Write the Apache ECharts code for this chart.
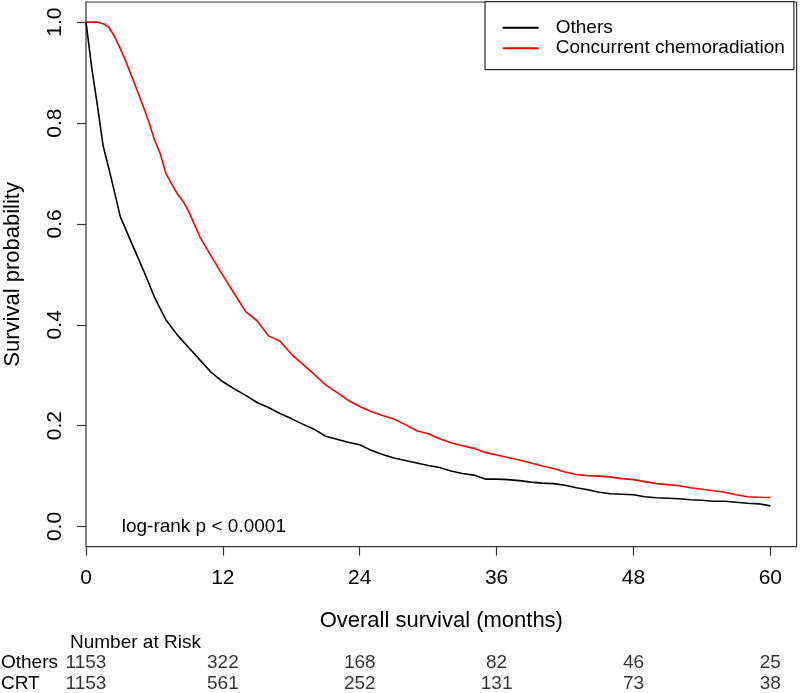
<!DOCTYPE html>
<html>
<head>
<meta charset="utf-8">
<script src="https://cdn.jsdelivr.net/npm/echarts@6/dist/echarts.min.js"></script>
<style>html,body{margin:0;padding:0;background:#fff}#c{width:800px;height:693px}</style>
</head>
<body>
<div id="c"></div>
<script>
// ---- data ----
var monthsOthers = [0,0.5,1,1.5,2,2.5,3,4,5,6,7,8,9,10,11,12,13,14,15,16,17,18,19,20,21,22,23,24,25,26,27,28,29,30,31,32,33,34,35,36,37,38,39,40,41,42,43,44,45,46,47,48,49,50,51,52,53,54,55,56,57,58,59,60];
var survOthers = [1.0,0.91,0.835,0.755,0.71,0.663,0.615,0.562,0.51,0.455,0.41,0.38,0.355,0.33,0.305,0.287,0.273,0.26,0.246,0.236,0.224,0.214,0.203,0.193,0.179,0.173,0.167,0.162,0.151,0.143,0.136,0.131,0.126,0.121,0.117,0.110,0.105,0.102,0.094,0.094,0.093,0.091,0.088,0.086,0.085,0.082,0.077,0.073,0.068,0.065,0.064,0.063,0.059,0.057,0.056,0.055,0.053,0.052,0.050,0.050,0.048,0.046,0.045,0.041];
var monthsCRT = [0,1,1.5,2,2.5,3,3.5,4,4.5,5,5.5,6,6.5,7,7.5,8,8.5,9,10,11,12,13,14,15,16,17,18,19,20,21,22,23,24,25,26,27,28,29,30,31,32,33,34,35,36,37,38,39,40,41,42,43,44,45,46,47,48,49,50,51,52,53,54,55,56,57,58,59,60];
var survCRT = [1.0,1.0,0.997,0.99,0.972,0.948,0.922,0.893,0.864,0.834,0.803,0.767,0.74,0.70,0.68,0.66,0.645,0.625,0.574,0.535,0.498,0.462,0.426,0.408,0.378,0.368,0.342,0.322,0.302,0.281,0.266,0.25,0.238,0.228,0.22,0.213,0.202,0.19,0.184,0.174,0.166,0.160,0.155,0.147,0.142,0.137,0.132,0.126,0.12,0.115,0.108,0.103,0.101,0.1,0.098,0.095,0.093,0.089,0.085,0.083,0.081,0.077,0.074,0.071,0.068,0.063,0.059,0.058,0.0575];
var xTicks = [0,12,24,36,48,60];
var yTicks = [0,0.2,0.4,0.6,0.8,1.0];
var riskTimes = [0,12,24,36,48,60];
var riskOthers = [1153,322,168,82,46,25];
var riskCRT = [1153,561,252,131,73,38];
var riskGroups = ['Others','CRT'];
var seriesNames = ['Others','Concurrent chemoradiation'];

// ---- chart ----
var FONT = 'Liberation Sans, Arial, sans-serif';
var AXC = '#333';
function pairs(xs, ys){ return xs.map(function(x,i){ return [x, ys[i]]; }); }
var riskData = [];
riskTimes.forEach(function(t,i){ riskData.push([t,'Others',riskOthers[i]]); });
riskTimes.forEach(function(t,i){ riskData.push([t,'CRT',riskCRT[i]]); });

var chart = echarts.init(document.getElementById('c'), null, {renderer:'canvas'});
chart.setOption({
  animation: false,
  backgroundColor: '#fff',
  textStyle: {fontFamily: FONT},
  grid: [
    {left: 86, right: 3.4, top: 2, bottom: 146.3, show: true, borderColor: AXC, borderWidth: 1.2,
     backgroundColor: 'transparent', containLabel: false, outerBoundsMode: 'none'},
    {left: 86, right: 3.4, top: 652.5, height: 42, containLabel: false, outerBoundsMode: 'none'}
  ],
  xAxis: [
    {type: 'value', gridIndex: 0, min: 0, max: 62.3, interval: 12, position: 'bottom',
     name: 'Overall survival (months)', nameLocation: 'middle', nameGap: 63,
     nameTextStyle: {fontSize: 22, color: '#000', fontFamily: FONT},
     axisLine: {show: false, onZero: false},
     axisTick: {show: true, length: 9, inside: false, lineStyle: {color: AXC, width: 1.2}, customValues: xTicks},
     axisLabel: {fontSize: 21, color: '#000', margin: 21, fontFamily: FONT, customValues: xTicks,
       formatter: function(v){ return String(v); }},
     splitLine: {show: false}},
    {type: 'value', gridIndex: 1, min: 0, max: 62.3, show: false}
  ],
  yAxis: [
    {type: 'value', gridIndex: 0, min: -0.04, max: 1.04, position: 'left',
     name: 'Survival probability', nameLocation: 'middle', nameGap: 62, nameRotate: 90,
     nameTextStyle: {fontSize: 22, color: '#000', fontFamily: FONT},
     axisLine: {show: false, onZero: false},
     axisTick: {show: true, length: 9, lineStyle: {color: AXC, width: 1.2}, customValues: yTicks},
     axisLabel: {fontSize: 21, color: '#000', margin: 20, rotate: 90, fontFamily: FONT, customValues: yTicks,
       formatter: function(v){ return v.toFixed(1); }},
     splitLine: {show: false}},
    {type: 'category', gridIndex: 1, data: riskGroups, inverse: true,
     axisLine: {show: false}, axisTick: {show: false}, splitLine: {show: false},
     axisLabel: {interval: 0, align: 'left', margin: 85, fontSize: 19, color: '#000', fontFamily: FONT}}
  ],
  legend: {
    orient: 'vertical', left: 485, top: 1.7,
    padding: [16.5, 9, 12, 17.7], itemGap: 1.5,
    itemWidth: 36, itemHeight: 2, icon: 'rect',
    borderColor: '#000', borderWidth: 1, backgroundColor: '#fff',
    textStyle: {fontSize: 19, color: '#000', fontFamily: FONT, padding: [0,0,0,12]},
    data: seriesNames
  },
  series: [
    {name: seriesNames[0], type: 'line', xAxisIndex: 0, yAxisIndex: 0, data: pairs(monthsOthers, survOthers),
     showSymbol: false, symbol: 'none', lineStyle: {color: '#000', width: 1.6}, itemStyle: {color: '#000'}, z: 3},
    {name: seriesNames[1], type: 'line', xAxisIndex: 0, yAxisIndex: 0, data: pairs(monthsCRT, survCRT),
     showSymbol: false, symbol: 'none', lineStyle: {color: '#ff0000', width: 1.6}, itemStyle: {color: '#ff0000'}, z: 3},
    {name: 'risk', type: 'scatter', xAxisIndex: 1, yAxisIndex: 1, data: riskData,
     symbolSize: 1, itemStyle: {color: 'transparent'}, silent: true,
     label: {show: true, position: 'inside', fontSize: 19, color: '#000', fontFamily: FONT,
       formatter: function(p){ return String(p.value[2]); }}}
  ],
  graphic: [
    {type: 'text', left: 70, top: 633.5, style: {text: 'Number at Risk', font: '19px ' + FONT, fill: '#000'}},
    {type: 'text', left: 121.7, top: 517, style: {text: 'log-rank p < 0.0001', font: '19px ' + FONT, fill: '#000'}}
  ]
});
</script>
</body>
</html>
